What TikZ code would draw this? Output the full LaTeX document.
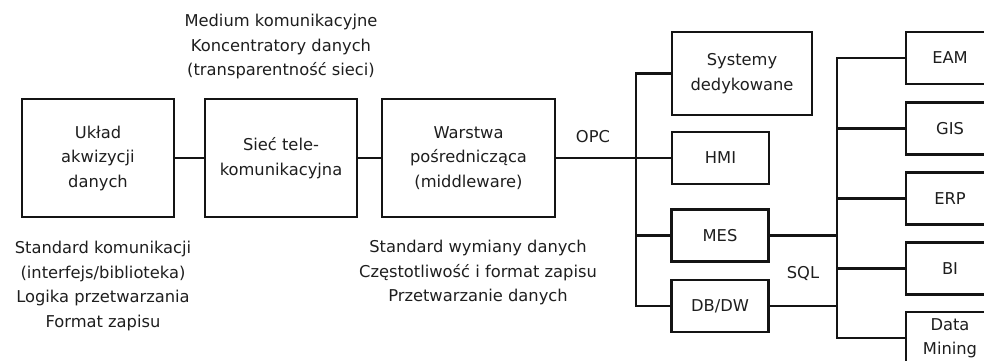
\documentclass[tikz,border=0pt]{standalone}
\usepackage{fontspec}
\setmainfont{DejaVu Sans}
\usetikzlibrary{calc,positioning}
\definecolor{DiagInk}{HTML}{141414}
\definecolor{DiagText}{HTML}{1E1E1E}
\tikzset{
  block/.style={
    draw=DiagInk,
    fill=white,
    line width=2.3pt,
    inner sep=0pt,
    text=DiagText,
    align=center,
    font=\fontsize{16.3}{24.5}\selectfont
  },
  stagebox/.style={
    block,
    minimum width=152pt,
    minimum height=118pt
  },
  appbox/.style={
    block,
    minimum width=97pt,
    minimum height=52pt
  },
  bizbox/.style={
    block,
    minimum width=88pt,
    minimum height=52pt
  },
  note/.style={
    align=center,
    inner sep=0pt,
    text=DiagText,
    font=\fontsize{16.3}{24.5}\selectfont
  },
  wire/.style={
    draw=DiagInk,
    line width=2.3pt
  }
}
\begin{document}
\begin{tikzpicture}[x=1pt,y=1pt]
  \useasboundingbox (0,0) rectangle (984,360);

  % Acquisition chain: three stages on one line.
  \node[stagebox] (acq) at (98,202) {Układ\\akwizycji\\danych};
  \node[stagebox] (net) at (281,202) {Sieć tele-\\komunikacyjna};
  \node[stagebox,minimum width=173pt] (mid) at (468.5,202)
    {Warstwa\\pośrednicząca\\(middleware)};

  \draw[wire] (acq) -- (net);
  \draw[wire] (net) -- (mid);

  \node[note] (net-note) at (281,313)
    {Medium komunikacyjne\\Koncentratory danych\\(transparentność sieci)};
  \node[note] (acq-note) at (103,74)
    {Standard komunikacji\\(interfejs/biblioteka)\\Logika przetwarzania\\Format zapisu};
  \node[note] (mid-note) at (478,87.5)
    {Standard wymiany danych\\Częstotliwość i format zapisu\\Przetwarzanie danych};

  % OPC side: one bus feeds four systems.
  \coordinate (opc-bus) at (636,202);
  \node[block,minimum width=140pt,minimum height=83pt] (sys) at (742,286.5)
    {Systemy\\dedykowane};
  \node[appbox] (hmi) at (720.5,202) {HMI};
  \node[appbox] (mes) at (720,124.5) {MES};
  \node[appbox] (dbdw) at (720,54) {DB/DW};
  \node[note] (opc) at (593,223) {OPC};

  \draw[wire] (mid) -- (opc-bus);
  \draw[wire] (sys.west) -| (opc-bus) |- (dbdw.west);
  \draw[wire] (opc-bus) -- (hmi);
  \draw[wire] (mes.west) -- (mes.west -| opc-bus);

  % SQL side: business systems cut by the page edge.
  \coordinate (sql-bus) at (837,124.5);
  \node[bizbox] (eam) at (950,302) {EAM};
  \node[bizbox] (gis) at (950,231.5) {GIS};
  \node[bizbox] (erp) at (950,161.5) {ERP};
  \node[bizbox] (bi) at (950,91.5) {BI};
  \node[bizbox] (dm) at (950,22) {Data\\Mining};
  \node[note] (sql) at (803,87) {SQL};

  \draw[wire] (mes) -- (sql-bus);
  \draw[wire] (dbdw.east) -- (dbdw.east -| sql-bus);
  \draw[wire] (eam.west) -| (sql-bus) |- (dm.west);
  \draw[wire] (gis.west) -- (gis.west -| sql-bus);
  \draw[wire] (erp.west) -- (erp.west -| sql-bus);
  \draw[wire] (bi.west) -- (bi.west -| sql-bus);
\end{tikzpicture}
\end{document}
